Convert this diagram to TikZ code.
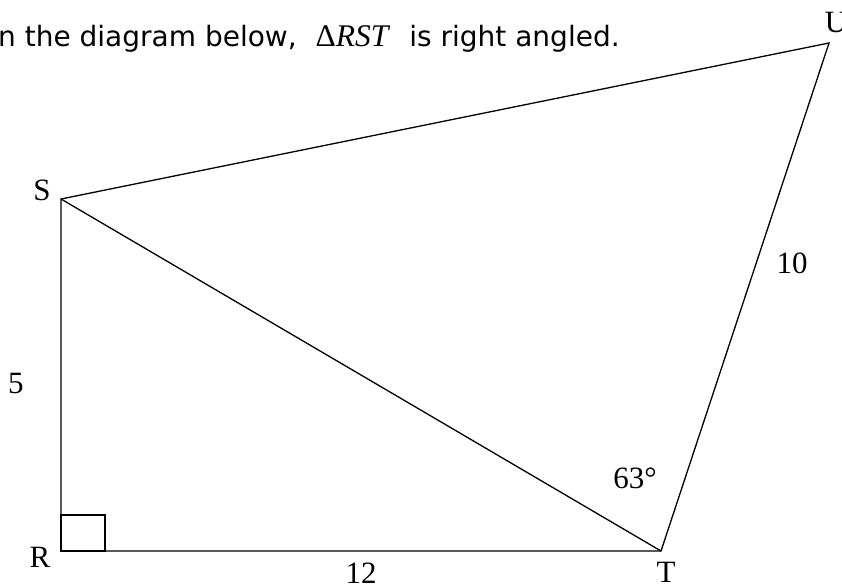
\documentclass[tikz,border=0pt]{standalone}
\usepackage{fontspec}
\setmainfont{Liberation Serif}
\newfontfamily\sansfont{DejaVu Sans}
\usepackage{tikz}

\begin{document}
\begin{tikzpicture}[
    x=1pt, y=-1pt,
    every node/.style={inner sep=0pt},
    side/.style={line width=1.3pt, line join=miter},
    lbl/.style={font=\fontsize{31}{36}\selectfont},
    heading/.style={font=\sansfont\fontsize{28}{32}\selectfont, anchor=base west}
]
\useasboundingbox (0,0) rectangle (842,586);

% Vertices
\coordinate (R) at (61,551);
\coordinate (S) at (61,199);
\coordinate (T) at (661,551);
\coordinate (U) at (829,43);
\coordinate (Rsq) at (105,515);

% Heading
\node[heading] (title) at (-2,47) {n the diagram below,\hspace{19pt}{\rmfamily\fontsize{31.5}{36}\selectfont Δ\textit{RST}}\hspace{19pt}is right angled.};

% Sides
\draw[side] (R) -- (T) -- (U) -- (S) -- cycle;
\draw[side] (S) -- (T);
\draw[side] (R) rectangle (Rsq);

% Labels
\node[lbl] (labS) at (42,190) {S};
\node[lbl] (labR) at (40,557) {R};
\node[lbl] (labT) at (666,572) {T};
\node[lbl] (labU) at (836,23) {U};
\node[lbl] (lenRS) at (16,383) {5};
\node[lbl] (lenRT) at (361,573) {12};
\node[lbl] (lenTU) at (792,263) {10};
\node[lbl] (angT) at (635,478) {63°};

\end{tikzpicture}
\end{document}
